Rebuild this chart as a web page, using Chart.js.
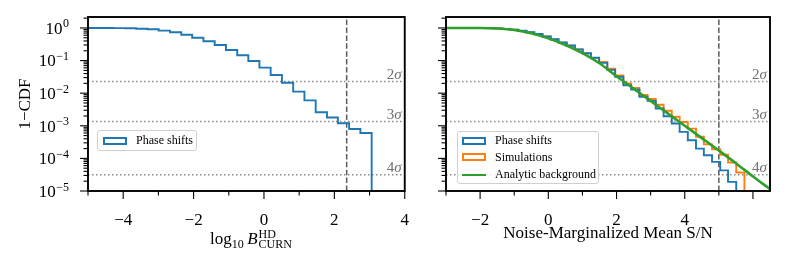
<!DOCTYPE html>
<html>
<head>
<meta charset="utf-8">
<script src="https://cdn.jsdelivr.net/npm/chart.js@4.4.1/dist/chart.umd.min.js"></script>
<style>
  body { margin: 0; background: #fff; }
  #wrap { position: relative; width: 789px; height: 266px; overflow: hidden; font-family: "Liberation Serif", serif; color: #000; }
  canvas { position: absolute; top: 0; }
  #cl { left: 0; }
  #cr { left: 420px; }
  .legend { position: absolute; background: rgba(255,255,255,0.8); border: 1px solid #d0d0d0; border-radius: 3px; box-sizing: border-box; }
  .row { position: absolute; left: 0; height: 17px; display: flex; align-items: center; font-size: 12px; white-space: nowrap; }
  .patch { width: 24px; height: 8px; border: 2px solid; box-sizing: border-box; margin: 0 9px 0 5px; }
  .key { width: 24px; height: 0; border-top: 2.5px solid; margin: 0 9px 0 5px; }
  #xtl { position: absolute; left: 251px; top: 229px; transform: translateX(-50%); font-size: 17px; line-height: 18px; white-space: nowrap; }
  #xtl sub { font-size: 12px; vertical-align: -4px; line-height: 0; }
  .stk { display: inline-block; vertical-align: -4px; font-size: 12px; line-height: 10px; margin-left: 1px; }
  .stk span { display: block; }
</style>
</head>
<body>
<div id="wrap">
  <canvas id="cl" width="420" height="266"></canvas>
  <canvas id="cr" width="369" height="266"></canvas>

  <div class="legend" style="left:97px; top:130px; width:100px; height:21px;">
    <div class="row" style="top:1px;"><div class="patch" style="border-color:#1f77b4"></div>Phase shifts</div>
  </div>

  <div class="legend" style="left:457px; top:131px; width:142px; height:53px;">
    <div class="row" style="top:0px;"><div class="patch" style="border-color:#1f77b4; margin-left:4px"></div>Phase shifts</div>
    <div class="row" style="top:16.5px;"><div class="patch" style="border-color:#ff7f0e; margin-left:4px"></div>Simulations</div>
    <div class="row" style="top:34px;"><div class="key" style="border-color:#2ca02c; margin-left:4px"></div>Analytic background</div>
  </div>

  <div id="xtl">log<sub>10</sub>&#8201;<i>B</i><span class="stk"><span>HD</span><span>CURN</span></span></div>
</div>

<script>
// ---- data ----
const Y_MIN = 1e-5;
const Y_MAX = 2.17;

// one-sided Gaussian tail probabilities, drawn as dotted guides
const sigmaLevels = [0.02275, 0.00135, 3.17e-5];
const sigmaLabels = ['2', '3', '4'];
const decadePowers = [0, -1, -2, -3, -4, -5];

// left panel: log10 Bayes factor, phase-shift histogram (1-CDF)
const leftEdges = [-5.22, -4.90, -4.58, -4.27, -3.95, -3.63, -3.31, -2.99, -2.67, -2.35,
  -2.04, -1.72, -1.40, -1.08, -0.76, -0.445, -0.13, 0.19, 0.51, 0.83,
  1.15, 1.47, 1.79, 2.10, 2.42, 2.74, 3.06];
const leftPhase = [1.0, 0.998, 0.995, 0.99, 0.98, 0.95, 0.91, 0.83, 0.74, 0.62,
  0.50, 0.39, 0.30, 0.21, 0.145, 0.097, 0.061, 0.036, 0.021, 0.0112,
  0.006, 0.0026, 0.0018, 0.0012, 0.0008, 0.0006, 0];
const leftThreshold = 2.35;
const leftLabelTicks = [-4, -2, 0, 2, 4];

// right panel: noise-marginalized mean S/N
const rightEdges = [-3.24, -3.01, -2.77, -2.53, -2.30, -2.06, -1.82, -1.59, -1.35, -1.12,
  -0.88, -0.64, -0.41, -0.17, 0.07, 0.30, 0.54, 0.78, 1.01, 1.25,
  1.49, 1.73, 1.96, 2.20, 2.43, 2.67, 2.91, 3.15, 3.38, 3.62,
  3.85, 4.09, 4.33, 4.56, 4.80, 5.04, 5.27, 5.51, 5.75];
const rightPhase = [1.0, 1.0, 1.0, 0.999, 0.998, 0.995, 0.986, 0.973, 0.94, 0.89,
  0.82, 0.74, 0.65, 0.55, 0.45, 0.36, 0.29, 0.22, 0.167, 0.122,
  0.085, 0.052, 0.032, 0.0175, 0.013, 0.0078, 0.0058, 0.0034, 0.00196, 0.00117,
  0.00065, 0.00036, 0.0002, 0.000125, 0.000078, 0.000043, 0.000019, 0];
const rightSims = [1.0, 1.0, 1.0, 0.999, 0.997, 0.994, 0.984, 0.97, 0.935, 0.885,
  0.815, 0.735, 0.645, 0.545, 0.445, 0.355, 0.285, 0.218, 0.165, 0.121,
  0.09, 0.056, 0.035, 0.02, 0.0145, 0.0088, 0.0066, 0.0044, 0.0029, 0.0019,
  0.0013, 0.00082, 0.00046, 0.00027, 0.00019, 0.00013, 0.000075, 0.000037, 0];
const analyticX = [-3, -2.5, -2, -1.5, -1, -0.5, 0, 0.5, 1, 1.5,
  2, 2.5, 3, 3.5, 4, 4.5, 5, 5.5, 6, 6.5];
const analyticY = [1.0, 0.999, 0.995, 0.966, 0.87, 0.69, 0.48, 0.30, 0.17, 0.083,
  0.033, 0.0138, 0.0058, 0.0024, 0.001, 0.00042, 0.000174, 0.000071, 0.000028, 0.0000115];
const rightThreshold = 5.0;
const rightLabelTicks = [-2, 0, 2, 4, 6];

const FONT = '"Liberation Serif", serif';
Chart.defaults.font.family = FONT;
Chart.defaults.color = '#000';

// histogram outline: each point starts a bin, a zero level drops off the axis
function steps(edges, levels) {
  return levels.map((v, i) => ({ x: edges[i], y: v > 0 ? v : 1e-9 }));
}

function guideLines(xMin, xMax, thr) {
  const sets = sigmaLevels.map(lv => ({
    data: [{ x: xMin, y: lv }, { x: xMax, y: lv }],
    borderColor: '#8a8a8a', borderWidth: 1.5, borderDash: [1.5, 2.5], order: 5
  }));
  sets.push({
    data: [{ x: thr, y: Y_MIN }, { x: thr, y: Y_MAX }],
    borderColor: '#5c5c5c', borderWidth: 1.5, borderDash: [5.5, 2.4], order: 4
  });
  return sets;
}

function minus(v) {
  return v < 0 ? '\u2212' + Math.abs(v) : String(v);
}

function line(ctx, x1, y1, x2, y2) {
  ctx.beginPath(); ctx.moveTo(x1, y1); ctx.lineTo(x2, y2); ctx.stroke();
}

// frame, outward ticks, 10^k labels and sigma tags
const decor = {
  id: 'decor',
  afterDatasetsDraw(chart, args, o) {
    const { ctx, chartArea: a, scales: { x, y } } = chart;
    ctx.save();

    ctx.fillStyle = '#707070';
    ctx.textBaseline = 'alphabetic';
    ctx.textAlign = 'right';
    sigmaLevels.forEach((lv, i) => {
      const py = y.getPixelForValue(lv) - 3;
      ctx.font = 'italic 15px ' + FONT;
      const sw = ctx.measureText('\u03c3').width;
      ctx.fillText('\u03c3', a.right - 3, py);
      ctx.font = '15px ' + FONT;
      ctx.fillText(sigmaLabels[i], a.right - 3 - sw, py);
    });

    ctx.strokeStyle = '#000';
    ctx.lineWidth = 1.9;
    ctx.strokeRect(a.left, a.top, a.right - a.left, a.bottom - a.top);

    ctx.lineWidth = 1.1;
    for (let v = Math.ceil(x.min); v <= x.max; v++) {
      const px = x.getPixelForValue(v);
      line(ctx, px, a.bottom, px, a.bottom + (o.labelTicks.includes(v) ? 8 : 4.5));
    }
    for (const p of decadePowers) {
      for (let m = 1; m <= 9; m++) {
        const v = m * Math.pow(10, p);
        if (v < Y_MIN * 0.999 || v > Y_MAX) continue;
        const py = y.getPixelForValue(v);
        line(ctx, a.left, py, a.left - (m === 1 ? 8 : 4.5), py);
      }
    }

    if (o.yLabels) {
      ctx.fillStyle = '#000';
      for (const p of decadePowers) {
        const py = y.getPixelForValue(Math.pow(10, p));
        const exp = minus(p);
        const right = a.left - 19;
        ctx.font = '12px ' + FONT;
        const ew = ctx.measureText(exp).width;
        ctx.textAlign = 'left';
        ctx.fillText(exp, right - ew, py - 0.5);
        ctx.font = '17px ' + FONT;
        ctx.textAlign = 'right';
        ctx.fillText('10', right - ew - 0.5, py + 5.8);
      }
    }
    ctx.restore();
  }
};

function panelOptions(o) {
  return {
    responsive: false,
    animation: false,
    devicePixelRatio: 1,
    layout: { padding: { top: 17, right: o.padRight, left: 0, bottom: 0 } },
    elements: { point: { radius: 0 }, line: { fill: false, tension: 0 } },
    plugins: {
      legend: { display: false },
      tooltip: { enabled: false },
      decor: { labelTicks: o.labelTicks, yLabels: o.yLabels }
    },
    scales: {
      x: {
        type: 'linear', min: o.xMin, max: o.xMax,
        grid: { display: false }, border: { display: false },
        ticks: {
          stepSize: 1, autoSkip: false, maxRotation: 0, padding: 11,
          font: { size: 17 },
          callback: v => o.labelTicks.includes(v) ? minus(v) : ''
        },
        title: {
          display: !!o.xTitle, text: o.xTitle || '',
          font: { size: 17 }, padding: { top: 0, bottom: 22 }
        },
        afterFit: s => { s.height = 75; }
      },
      y: {
        type: 'logarithmic', min: Y_MIN, max: Y_MAX,
        grid: { display: false }, border: { display: false },
        ticks: { display: false },
        title: {
          display: !!o.yTitle, text: o.yTitle || '',
          font: { size: 17 }, padding: { top: 15, bottom: 0 }
        },
        afterFit: s => { s.width = o.yWidth; }
      }
    }
  };
}

new Chart(document.getElementById('cl'), {
  type: 'line',
  plugins: [decor],
  data: {
    datasets: [
      { data: steps(leftEdges, leftPhase), stepped: true, borderColor: '#1f77b4', borderWidth: 1.9, order: 1 },
      ...guideLines(-5, 4, leftThreshold)
    ]
  },
  options: panelOptions({
    xMin: -5, xMax: 4, padRight: 7, yWidth: 88,
    labelTicks: leftLabelTicks, yLabels: true, yTitle: '1\u2212CDF'
  })
});

new Chart(document.getElementById('cr'), {
  type: 'line',
  plugins: [decor],
  data: {
    datasets: [
      { data: steps(rightEdges, rightPhase), stepped: true, borderColor: '#1f77b4', borderWidth: 1.9, order: 1 },
      { data: steps(rightEdges, rightSims), stepped: true, borderColor: '#ff7f0e', borderWidth: 1.9, order: 2 },
      { data: analyticX.map((x, i) => ({ x, y: analyticY[i] })), borderColor: '#2ca02c', borderWidth: 2.6,
        cubicInterpolationMode: 'monotone', order: 0 },
      ...guideLines(-3, 6.5, rightThreshold)
    ]
  },
  options: panelOptions({
    xMin: -3, xMax: 6.5, padRight: 19, yWidth: 26,
    labelTicks: rightLabelTicks, yLabels: false, xTitle: 'Noise-Marginalized Mean S/N'
  })
});
</script>
</body>
</html>
